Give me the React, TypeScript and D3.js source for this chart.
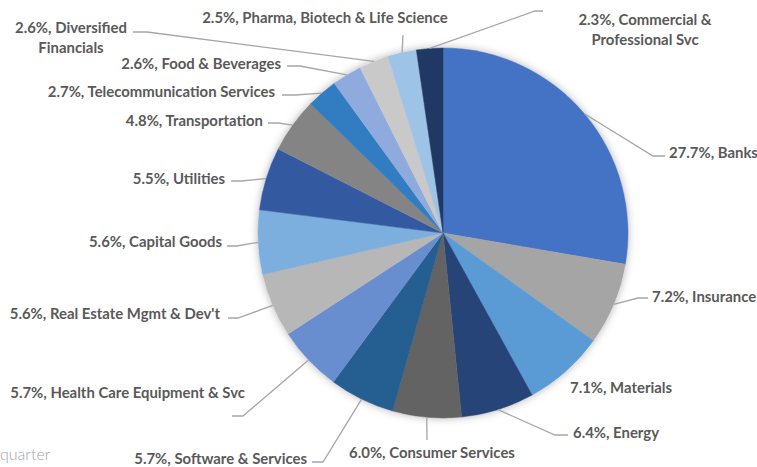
import React from "react";
import * as d3 from "d3";

const categories = [
  "Banks",
  "Insurance",
  "Materials",
  "Energy",
  "Consumer Services",
  "Software & Services",
  "Health Care Equipment & Svc",
  "Real Estate Mgmt & Dev't",
  "Capital Goods",
  "Utilities",
  "Transportation",
  "Telecommunication Services",
  "Food & Beverages",
  "Diversified Financials",
  "Pharma, Biotech & Life Science",
  "Commercial & Professional Svc",
];
const values = [27.7, 7.2, 7.1, 6.4, 6.0, 5.7, 5.7, 5.6, 5.6, 5.5, 4.8, 2.7, 2.6, 2.6, 2.5, 2.3];
const colors = [
  "#4472C4", "#A5A5A5", "#5B9BD5", "#264478", "#636363", "#255E91", "#698ED0", "#B7B7B7",
  "#7CAFDD", "#335AA1", "#848484", "#327DC2", "#8FAADC", "#C9C9C9", "#9DC3E6", "#203864",
];

// label layout: text lines, anchor, x, first-line center y, leader points (from elbow to end)
type Lay = { lines: string[]; anchor: string; x: number; y: number; pts: [number, number][] };
const layout: Lay[] = [
  { lines: ["27.7%, Banks"], anchor: "start", x: 669, y: 152, pts: [[653, 156], [665, 156]] },
  { lines: ["7.2%, Insurance"], anchor: "start", x: 652, y: 296, pts: [[638, 298], [648, 298]] },
  { lines: ["7.1%, Materials"], anchor: "start", x: 570, y: 387, pts: [] },
  { lines: ["6.4%, Energy"], anchor: "start", x: 573, y: 432, pts: [[555, 435], [568, 435]] },
  { lines: ["6.0%, Consumer Services"], anchor: "middle", x: 432, y: 452, pts: [[427, 440]] },
  { lines: ["5.7%, Software & Services"], anchor: "end", x: 307, y: 458, pts: [[323, 462], [312, 462]] },
  { lines: ["5.7%, Health Care Equipment & Svc"], anchor: "end", x: 245, y: 392, pts: [[243, 416], [232, 416]] },
  { lines: ["5.6%, Real Estate Mgmt & Dev't"], anchor: "end", x: 220, y: 313, pts: [[238, 318], [228, 318]] },
  { lines: ["5.6%, Capital Goods"], anchor: "end", x: 222, y: 241, pts: [[237, 246], [227, 246]] },
  { lines: ["5.5%, Utilities"], anchor: "end", x: 225, y: 178, pts: [[241, 181], [231, 181]] },
  { lines: ["4.8%, Transportation"], anchor: "end", x: 263, y: 120, pts: [[278, 123], [268, 123]] },
  { lines: ["2.7%, Telecommunication Services"], anchor: "end", x: 275, y: 91, pts: [[295, 95], [282, 95]] },
  { lines: ["2.6%, Food & Beverages"], anchor: "end", x: 281, y: 63, pts: [[300, 66], [287, 66]] },
  { lines: ["2.6%, Diversified", "Financials"], anchor: "middle", x: 71, y: 27, pts: [[147, 32], [133, 32]] },
  { lines: ["2.5%, Pharma, Biotech & Life Science"], anchor: "middle", x: 325, y: 17, pts: [[403, 35]] },
  { lines: ["2.3%, Commercial &", "Professional Svc"], anchor: "middle", x: 645, y: 19, pts: [[535, 11], [543, 11]] },
];

const W = 757;
const H = 467;
const cx = 443;
const cy = 233;
const R = 185;

export default function App() {
  const pie = d3.pie<number>().sort(null).value((d) => d);
  const arcs = pie(values);
  const arc = d3.arc<d3.PieArcDatum<number>>().innerRadius(0).outerRadius(R);

  return (
    <svg
      width={W}
      height={H}
      style={{ position: "absolute", left: 0, top: 0, background: "#fff" }}
      fontFamily="Lato, Calibri, sans-serif"
    >
      <defs>
        <filter id="sh" x="-20%" y="-20%" width="140%" height="140%">
          <feDropShadow dx="0" dy="0" stdDeviation="4" floodColor="#000" floodOpacity="0.3" />
        </filter>
      </defs>
      <g transform={`translate(${cx},${cy})`}>
        <circle r={R} fill="#fff" filter="url(#sh)" />
        {arcs.map((a, i) => (
          <path key={i} d={arc(a) || ""} fill={colors[i]} stroke={colors[i]} strokeWidth={0.5} />
        ))}
      </g>
      {arcs.map((a, i) => {
        const lay = layout[i];
        if (!lay.pts.length) return null;
        const mid = (a.startAngle + a.endAngle) / 2;
        const sx = cx + R * Math.sin(mid);
        const sy = cy - R * Math.cos(mid);
        const pts: [number, number][] = [[sx, sy], ...lay.pts];
        return (
          <path
            key={"l" + i}
            d={d3.line()(pts) || ""}
            fill="none"
            stroke="#A6A6A6"
            strokeWidth={1.3}
          />
        );
      })}
      {layout.map((lay, i) => (
        <text
          key={"t" + i}
          x={lay.x}
          y={lay.y}
          textAnchor={lay.anchor as any}
          fontSize={14.9}
          fontWeight={700}
          fill="#595959"
          dominantBaseline="central"
        >
          {lay.lines.map((ln, j) => (
            <tspan key={j} x={lay.x} dy={j === 0 ? 0 : 19.5}>
              {ln}
            </tspan>
          ))}
        </text>
      ))}
      <text x={0} y={453} fontSize={16} fontWeight={300} fill="#A6A6A6" dominantBaseline="central" fontFamily="Lato, sans-serif">
        quarter
      </text>
    </svg>
  );
}
